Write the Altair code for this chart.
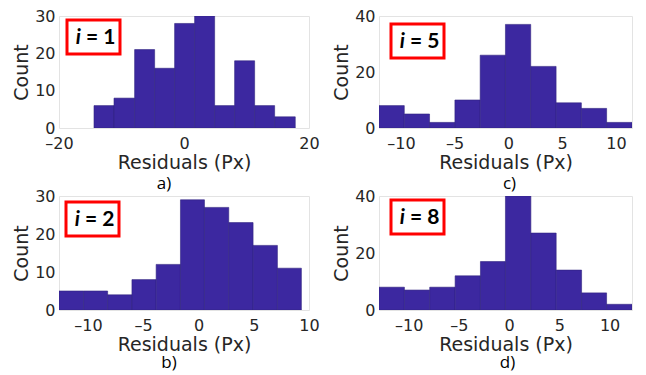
import altair as alt
import pandas as pd

# ---- data ----
edges_a = [-14.4, -11.2, -7.9, -4.7, -1.5, 1.7, 4.9, 8.1, 11.3, 14.5, 17.8]
counts_a = [6, 8, 21, 16, 28, 30, 6, 18, 6, 3]
edges_c = [-12.04, -9.69, -7.34, -4.98, -2.63, -0.28, 2.07, 4.43, 6.78, 9.13, 11.49]
counts_c = [8, 5, 2, 10, 26, 37, 22, 9, 7, 2]
edges_b = [-12.62, -10.39, -8.22, -6.02, -3.83, -1.63, 0.54, 2.74, 4.94, 7.14, 9.31]
counts_b = [5, 5, 4, 8, 12, 29, 27, 23, 17, 11]
edges_d = [-12.96, -10.43, -7.91, -5.38, -2.86, -0.37, 2.16, 4.68, 7.21, 9.70, 12.23]
counts_d = [8, 7, 8, 12, 17, 40, 27, 14, 6, 2]

xdom_a = [-20, 20]
xdom_c = [-12.04, 11.49]
xdom_b = [-12.62, 10]
xdom_d = [-12.96, 12.23]
ymax_a, ymax_c, ymax_b, ymax_d = 30, 40, 30, 40
xt_a = [-20, 0, 20]
xt_other = [-10, -5, 0, 5, 10]
yt_30 = [0, 10, 20, 30]
yt_40 = [0, 20, 40]
labels_i = ["1", "5", "2", "8"]
sub_labels = ["a)", "c)", "b)", "d)"]

BAR = "#3c28a0"
TXT = "#262626"
DASH = "replace(datum.label, '\u2212', '\u2013')"


def panel(edges, counts, xdom, ymax, xt, yt, ilabel, sub, w, h, bx, by, sub_dx, sub_off):
    df = pd.DataFrame({"x0": edges[:-1], "x1": edges[1:], "count": counts})
    bars = alt.Chart(df).mark_rect(
        color=BAR, stroke="#30237f", strokeWidth=0.6, clip=True
    ).encode(
        x=alt.X("x0:Q", scale=alt.Scale(domain=xdom, nice=False, zero=False),
                axis=alt.Axis(values=xt, title="Residuals (Px)", labelFlush=False,
                              labelOverlap=False, labelExpr=DASH)),
        x2="x1:Q",
        y=alt.Y("count:Q", scale=alt.Scale(domain=[0, ymax], nice=False),
                axis=alt.Axis(values=yt, title="Count", labelOverlap=False)),
        y2=alt.datum(0),
    )
    one = pd.DataFrame({"k": [0]})
    box = alt.Chart(one).mark_rect(fill="white", stroke="#ff0000", strokeWidth=3).encode(
        x=alt.value(bx), x2=alt.value(bx + 53), y=alt.value(by), y2=alt.value(by + 34)
    )
    t_i = alt.Chart(one).mark_text(
        font="Lato", fontSize=21, fontWeight="bold", fontStyle="italic",
        align="right", baseline="middle", color="black"
    ).encode(x=alt.value(bx + 14), y=alt.value(by + 18), text=alt.value("i"))
    t_eq = alt.Chart(one).mark_text(
        font="Lato", fontSize=21, fontWeight="bold",
        align="left", baseline="middle", color="black"
    ).encode(x=alt.value(bx + 19), y=alt.value(by + 18), text=alt.value("= " + ilabel))
    return alt.layer(bars, box, t_i, t_eq).properties(
        width=w, height=h,
        title=alt.TitleParams(sub, orient="bottom", dx=sub_dx, offset=sub_off, frame="group",
                              font="Open Sans", fontSize=17, fontWeight="normal",
                              color="black"),
    )


pa = panel(edges_a, counts_a, xdom_a, ymax_a, xt_a, yt_30, labels_i[0], sub_labels[0], 250, 112, 8, 4, -20, 4)
pc = panel(edges_c, counts_c, xdom_c, ymax_c, xt_other, yt_40, labels_i[1], sub_labels[1], 253, 112, 12, 8, 4, 4)
pb = panel(edges_b, counts_b, xdom_b, ymax_b, xt_other, yt_30, labels_i[2], sub_labels[2], 250, 114, 7, 6, -15, 1)
pd_ = panel(edges_d, counts_d, xdom_d, ymax_d, xt_other, yt_40, labels_i[3], sub_labels[3], 253, 114, 12, 4, 2, 1)

chart = alt.concat(
    pa, pc, pb, pd_, columns=2, spacing={"row": 68, "column": 70}, bounds="flush"
).configure(
    font="DejaVu Sans"
).configure_view(
    stroke="#e3e3e3", strokeWidth=1
).configure_axis(
    domain=False, ticks=False, grid=False,
    labelFont="DejaVu Sans", labelFontSize=16, labelColor=TXT, labelPadding=7,
    titleFont="DejaVu Sans", titleFontSize=19, titleColor=TXT, titleFontWeight="normal",
    titlePadding=2,
).configure_axisY(labelPadding=4, titlePadding=3).properties(
    padding={"left": 12, "top": 7, "right": 5, "bottom": 0}
)

chart.save("out.html", embed_options={"renderer": "svg", "actions": False})
